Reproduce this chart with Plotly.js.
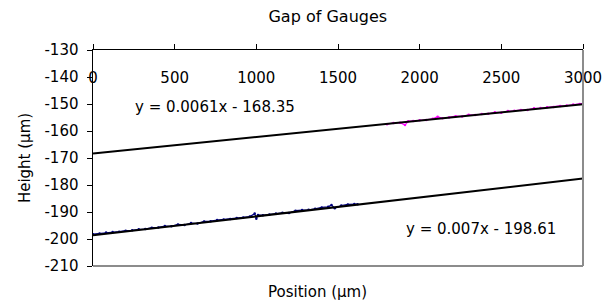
<!DOCTYPE html>
<html>
<head>
<meta charset="utf-8">
<script src="https://cdn.plot.ly/plotly-3.0.1.min.js"></script>
<style>html,body{margin:0;padding:0;background:#fff;}#chart{width:615px;height:303px;}</style>
</head>
<body>
<div id="chart"></div>
<script>
var chartTitle = "Gap of Gauges";
var xTitle = "Position (µm)";
var yTitle = "Height (µm)";

var blueX = [0,40,80,120,160,200,240,280,320,360,400,440,480,520,560,600,640,680,720,760,800,840,880,920,960,990,1000,1010,1040,1080,1120,1160,1200,1240,1280,1320,1360,1400,1440,1460,1480,1520,1560,1600,1620];
var blueY = [-198.2,-198.0,-197.6,-197.4,-197.3,-196.9,-196.8,-196.4,-196.3,-195.8,-195.7,-195.2,-195.3,-194.6,-194.8,-194.1,-194.3,-193.5,-193.4,-193.0,-192.8,-192.6,-192.2,-192.0,-191.7,-190.6,-192.5,-191.1,-191.2,-190.9,-190.6,-190.3,-190.4,-189.5,-189.3,-189.2,-188.8,-188.3,-188.1,-187.4,-188.6,-187.6,-187.2,-187.0,-187.1];

var pinkX = [1800,1840,1880,1910,1930,1960,2000,2040,2080,2110,2140,2180,2220,2260,2300,2340,2380,2420,2460,2500,2540,2580,2620,2660,2700,2740,2780,2820,2860,2900,2940,2980,3000];
var pinkY = [-157.5,-157.0,-156.9,-157.8,-156.4,-156.3,-156.0,-155.9,-155.5,-154.7,-155.3,-155.0,-154.5,-154.6,-154.0,-154.1,-153.7,-153.6,-153.1,-153.2,-152.6,-152.5,-152.2,-152.2,-151.6,-151.5,-151.2,-151.1,-150.7,-150.6,-150.2,-150.0,-149.8];

var trendX = [0,3000];
var trendUpperY = [-168.35,-150.05];
var trendLowerY = [-198.61,-177.61];
var eqUpper = "y = 0.0061x - 168.35";
var eqLower = "y = 0.007x - 198.61";

var xTicks = [0,500,1000,1500,2000,2500,3000];
var yTicks = [-210,-200,-190,-180,-170,-160,-150,-140,-130];

var font = "DejaVu Sans, Verdana, sans-serif";
var fs = 15;

var data = [
  {x: blueX, y: blueY, mode: 'lines+markers', line: {color: '#000080', width: 1.2}, marker: {size: 2.5, color: '#000080'}, hoverinfo: 'skip'},
  {x: pinkX, y: pinkY, mode: 'lines+markers', line: {color: '#FF00FF', width: 1.2}, marker: {size: 2.5, color: '#FF00FF'}, hoverinfo: 'skip'},
  {x: trendX, y: trendUpperY, mode: 'lines', line: {color: '#000000', width: 2}},
  {x: trendX, y: trendLowerY, mode: 'lines', line: {color: '#000000', width: 2}}
];

var layout = {
  width: 615, height: 303,
  margin: {l: 93, r: 32, t: 50, b: 37},
  paper_bgcolor: '#ffffff', plot_bgcolor: '#ffffff',
  showlegend: false,
  font: {family: font, size: fs, color: '#000'},
  title: {text: chartTitle, x: 0.533, xanchor: 'center', y: 0.945, yanchor: 'middle', font: {family: font, size: 16, color: '#000'}},
  xaxis: {
    range: [0, 3000], side: 'top', tickvals: xTicks, ticktext: xTicks.map(String),
    ticks: 'outside', ticklen: 5, tickcolor: '#000', tickwidth: 1,
    ticklabelposition: 'inside', ticklabeloverflow: 'allow', ticklabelstandoff: 22,
    showline: true, linecolor: '#000', linewidth: 1.5, showgrid: false, zeroline: false,
    tickfont: {family: font, size: fs, color: '#000'}
  },
  yaxis: {
    range: [-210, -130], tickvals: yTicks, ticktext: yTicks.map(String),
    ticks: 'outside', ticklen: 5, tickcolor: '#000', tickwidth: 1, ticklabelstandoff: 5,
    showline: true, linecolor: '#000', linewidth: 1.5, showgrid: false, zeroline: false,
    tickfont: {family: font, size: fs, color: '#000'},
    title: {text: yTitle, font: {family: font, size: fs, color: '#000'}, standoff: 10}
  },
  shapes: [
    {type: 'line', xref: 'paper', yref: 'paper', x0: 1, x1: 1, y0: 0, y1: 1, line: {color: '#8c8c8c', width: 2}},
    {type: 'line', xref: 'paper', yref: 'paper', x0: 0, x1: 1, y0: 0, y1: 0, line: {color: '#8c8c8c', width: 2}}
  ],
  annotations: [
    {text: eqUpper, x: 747, y: -151.0, xref: 'x', yref: 'y', showarrow: false, font: {family: font, size: fs, color: '#000'}},
    {text: eqLower, x: 2376, y: -196.4, xref: 'x', yref: 'y', showarrow: false, font: {family: font, size: fs, color: '#000'}},
    {text: xTitle, x: (317 - 93) / 490, y: -(292 - 266) / 216, xref: 'paper', yref: 'paper', yanchor: 'middle', showarrow: false, font: {family: font, size: fs, color: '#000'}}
  ]
};

Plotly.newPlot('chart', data, layout, {displayModeBar: false, staticPlot: true});
</script>
</body>
</html>
